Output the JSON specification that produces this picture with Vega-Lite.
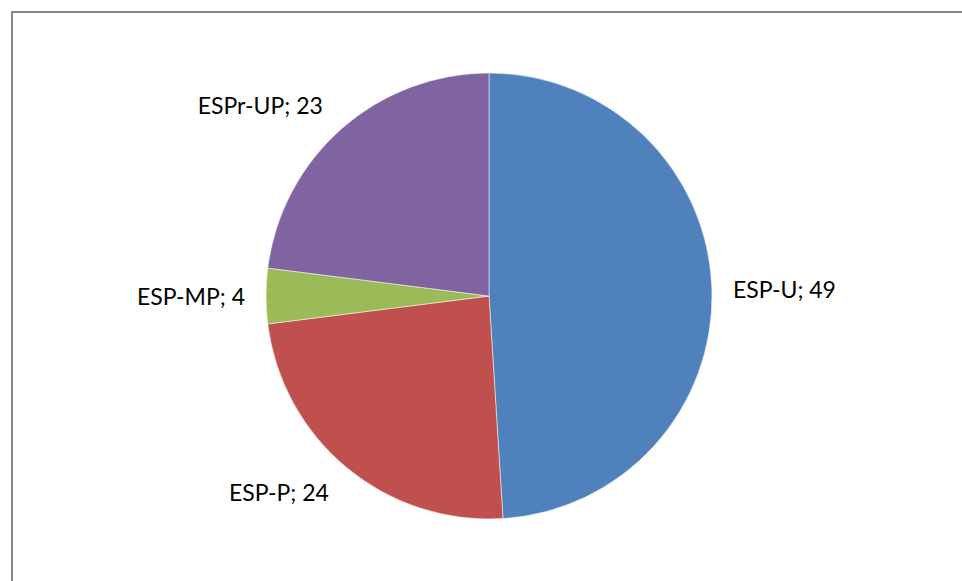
{
  "$schema": "https://vega.github.io/schema/vega-lite/v6.json",
  "width": 953,
  "height": 572,
  "padding": {"left": 9, "top": 9, "right": 0, "bottom": 0},
  "background": "white",
  "config": {"view": {"stroke": "#878787", "strokeWidth": 2}},
  "data": {
    "values": [
      {"label": "ESP-U", "value": 49, "o": 1},
      {"label": "ESP-P", "value": 24, "o": 2},
      {"label": "ESP-MP", "value": 4, "o": 3},
      {"label": "ESPr-UP", "value": 23, "o": 4}
    ]
  },
  "layer": [
    {
      "mark": {"type": "point", "opacity": 0},
      "encoding": {
        "x": {"datum": 0, "type": "quantitative", "axis": null},
        "y": {"datum": 0, "type": "quantitative", "axis": null}
      }
    },
    {
      "transform": [
        {"stack": "value", "sort": [{"field": "o"}], "groupby": [], "as": ["v0", "v1"]},
        {"calculate": "(datum.v0 + datum.v1) / 2", "as": "mid"},
        {"calculate": "datum.label + '; ' + datum.value", "as": "txt"}
      ],
      "layer": [
        {
          "mark": {"type": "arc", "radius": 223, "xOffset": 0.5, "yOffset": -2, "stroke": "#ffffff", "strokeWidth": 0.5},
          "encoding": {
            "theta": {"field": "v0", "type": "quantitative", "scale": {"domain": [0, 100]}},
            "theta2": {"field": "v1"},
            "color": {
              "field": "label",
              "type": "nominal",
              "scale": {
                "domain": ["ESP-U", "ESP-P", "ESP-MP", "ESPr-UP"],
                "range": ["#4F81BD", "#C0504D", "#9BBB59", "#8064A2"]
              },
              "legend": null
            }
          }
        },
        {
          "transform": [{"filter": "datum.o == 1"}],
          "mark": {"type": "text", "radius": 244, "xOffset": 0.5, "yOffset": 1, "font": "Lato", "fontSize": 23, "align": "left", "baseline": "middle", "color": "#000000"},
          "encoding": {"theta": {"field": "mid", "type": "quantitative"}, "text": {"field": "txt", "type": "nominal"}}
        },
        {
          "transform": [{"filter": "datum.o == 3"}],
          "mark": {"type": "text", "radius": 244, "xOffset": 0.5, "yOffset": 0, "font": "Lato", "fontSize": 23, "align": "right", "baseline": "middle", "color": "#000000"},
          "encoding": {"theta": {"field": "mid", "type": "quantitative"}, "text": {"field": "txt", "type": "nominal"}}
        },
        {
          "transform": [{"filter": "datum.o == 2 || datum.o == 4"}],
          "mark": {"type": "text", "radius": 255, "xOffset": 3, "yOffset": 0, "font": "Lato", "fontSize": 23, "align": "right", "baseline": "middle", "color": "#000000"},
          "encoding": {"theta": {"field": "mid", "type": "quantitative"}, "text": {"field": "txt", "type": "nominal"}}
        }
      ]
    }
  ]
}
